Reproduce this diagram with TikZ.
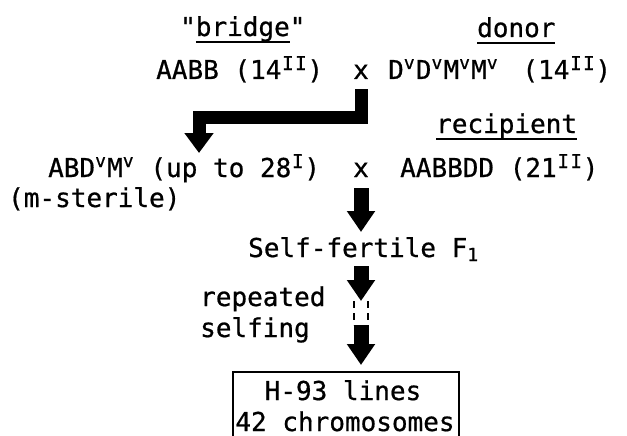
\documentclass[tikz,border=0pt]{standalone}
\usepackage{fontspec}
\setmonofont{DejaVu Sans Mono}[FakeBold=0.7]
\usetikzlibrary{arrows.meta,calc}
% superscript v, superscript I, subscript
\newcommand\hv{\makebox[12pt][l]{\raisebox{10pt}{\fontsize{18}{18}\selectfont v}}}
\newcommand\hI{\makebox[13pt]{\raisebox{9pt}{\fontsize{19}{19}\selectfont I}}}
\newcommand\lo[1]{\raisebox{-4pt}{\fontsize{18}{18}\selectfont #1}}
\newcommand\ulin[1]{\setbox0=\hbox{#1}\rlap{\rule[-7pt]{\wd0}{1.8pt}}\box0}
\begin{document}
\begin{tikzpicture}[x=1pt,y=-1pt,
  txt/.style={anchor=base west, inner sep=0pt, font=\fontsize{26}{30}\ttfamily},
  blk/.style={line width=13pt, -{Triangle[width=28pt,length=20pt]}, line join=miter},
  blkb/.style={line width=15pt, -{Triangle[width=27pt,length=21pt]}},
  dsh/.style={line width=2.4pt, dash pattern=on 7pt off 5pt},
  ]
\useasboundingbox (0,0) rectangle (627,436);
\fill[white] (0,0) rectangle (627,436);
% texts
\node[txt] (bridge) at (180,36) {"\ulin{bridge}"};
\node[txt] (donor) at (477,37) {\ulin{donor}};
\node[txt] (aabb) at (156,79) {AABB (14\hI\hI)};
\node[txt,anchor=base] (xb) at (361,79) {x};
\node[txt] (dvdv) at (388,79) {D\hv D\hv M\hv M\hv\hspace{8pt}\ (14\hI\hI)};
\node[txt] (recip) at (436,133) {\ulin{recipient}};
\node[txt] (abd) at (48,177) {ABD\hv M\hv\ (up to 28\hI)};
\node[txt,anchor=base] (xc) at (361,177) {x};
\node[txt] (aabbdd) at (400,177) {AABBDD (21\hI\hI)};
\node[txt] (mst) at (8,207) {(m-sterile)};
\node[txt] (self) at (248,257) {Self-fertile F\lo{1}};
\node[txt] (rep) at (200,306) {repeated};
\node[txt] (sel) at (200,337) {selfing};
\node[draw, line width=1.8pt, anchor=north west, minimum width=226pt, minimum height=90pt, inner sep=0pt] (box) at (232,371) {};
\node[txt, anchor=base] (h93) at (343,400) {H-93 lines};
\node[txt, anchor=base] (c42) at (345,431) {42 chromosomes};
% arrows
\coordinate (a1) at (199,153);
\draw[blk] ([yshift=-10pt]xb.south) -- ++(0,28) -| (a1);
\coordinate (a2) at (361,232);
\draw[blkb] ([yshift=-11pt]xc.south) -- (a2);
\coordinate (m1) at (361,301);
\coordinate (m2) at (361,325);
\draw[blkb] ([yshift=-9pt]self.base -| xc.base) -- (m1);
\draw[dsh] ([xshift=-7pt]m1) -- ([xshift=-7pt]m2);
\draw[dsh] ([xshift=7pt]m1) -- ([xshift=7pt]m2);
\draw[blkb] (m2) -- ([yshift=6pt]box.north -| m2);
\end{tikzpicture}
\end{document}
